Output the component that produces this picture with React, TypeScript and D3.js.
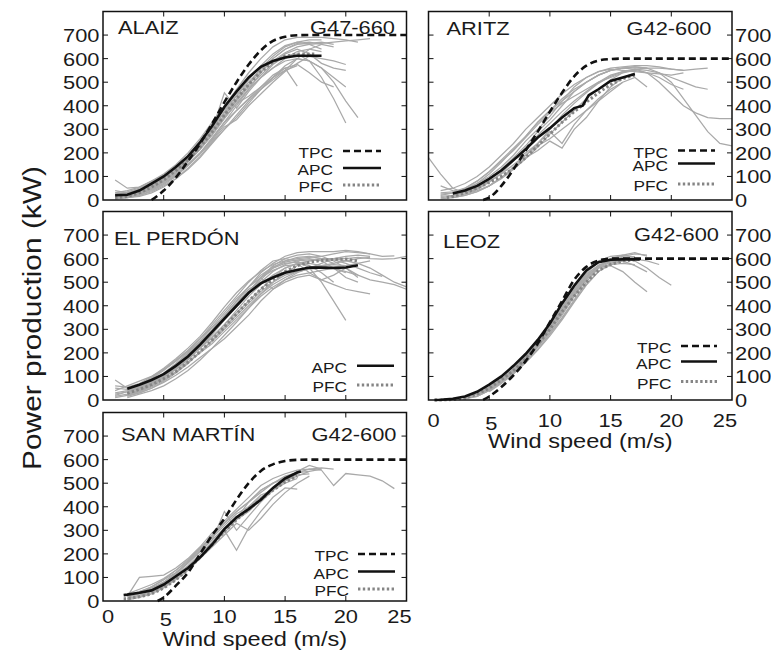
import React from "react";
import * as d3 from "d3";

type P = [number, number];

const windTicks = [0, 5, 10, 15, 20, 25];
const innerWindTicks = [5, 10, 15, 20];
const powerTicks = [0, 100, 200, 300, 400, 500, 600, 700];
const innerPowerTicks = [100, 200, 300, 400, 500, 600, 700];

// ---------- ALAIZ (G47-660) ----------
const alaizTPC: P[] = [[4, 0], [5, 40], [6, 95], [7, 165], [8, 240], [9, 325], [10, 415], [11, 500], [12, 575], [13, 635], [14, 675], [15, 693], [16, 699], [17, 700], [20, 700], [25, 700]];
const alaizAPC: P[] = [[1, 20], [2, 22], [3, 40], [4, 70], [5, 100], [6, 140], [7, 185], [8, 245], [9, 315], [10, 395], [11, 460], [12, 520], [13, 565], [14, 590], [15, 605], [16, 612], [17, 612], [18, 612]];
const alaizPFC: P[] = [[1, 10], [2, 15], [3, 30], [4, 55], [5, 85], [6, 125], [7, 170], [8, 225], [9, 290], [10, 360], [11, 430], [12, 490], [13, 545], [14, 585], [15, 610], [16, 620], [17, 620], [17.5, 620]];
const alaizGrayStart = [1, 1, 1, 1, 1, 2, 1, 1, 1, 1, 2, 1, 1, 2, 1, 2];
const alaizGray = [
  [30, 40, 55, 80, 110, 150, 200, 260, 330, 400, 470, 540, 600, 650, 680, 690, 690, 690, 685, 680, 670],
  [10, 15, 25, 45, 70, 105, 150, 200, 260, 330, 400, 470, 540, 600, 640, 665, 670, 660, 650],
  [20, 30, 45, 70, 95, 130, 175, 230, 300, 360, 420, 480, 530, 580, 620, 640, 620, 580, 560, 550],
  [5, 10, 20, 35, 60, 90, 135, 185, 245, 300, 360, 420, 470, 520, 570, 600, 590, 560, 500, 420, 350],
  [85, 50, 55, 80, 105, 140, 185, 235, 300, 455, 390, 460, 520, 575, 610, 620, 590, 520, 430, 327],
  [20, 35, 55, 85, 120, 165, 215, 275, 345, 410, 470, 520, 560, 600, 630, 640, 630],
  [15, 20, 35, 55, 80, 115, 160, 215, 280, 350, 410, 470, 520, 560, 590, 600, 590, 560, 520, 480],
  [25, 35, 50, 75, 100, 140, 190, 250, 320, 385, 440, 500, 555, 600, 640, 660, 665, 670, 660],
  [10, 20, 30, 50, 75, 110, 150, 200, 255, 320, 380, 430, 480, 530, 560, 575, 540, 500, 480],
  [40, 30, 45, 70, 100, 135, 185, 245, 310, 370, 430, 490, 560, 610, 650, 670, 680, 680],
  [15, 30, 50, 80, 120, 165, 220, 290, 350, 410, 440, 480, 520, 560, 483],
  [5, 10, 15, 30, 55, 90, 130, 180, 240, 300, 350, 410, 470, 520, 550, 570],
  [20, 25, 40, 60, 90, 125, 170, 225, 290, 360, 425, 490, 545, 590, 625, 650, 660, 665, 670, 675, 680, 685],
  [15, 25, 45, 70, 105, 150, 200, 265, 330, 380, 430, 470, 510, 550, 600, 640, 660],
  [30, 25, 40, 65, 95, 135, 180, 240, 305, 375, 445, 510, 570, 620, 655, 670, 660, 640],
  [10, 20, 40, 65, 100, 145, 195, 250, 310, 340, 400, 450, 500, 545, 580, 610, 600, 590, 575],
];

// ---------- ARITZ (G42-600) ----------
const aritzTPC: P[] = [[4.5, 0], [5, 10], [6, 60], [7, 130], [8, 210], [9, 290], [10, 375], [11, 455], [12, 525], [13, 570], [14, 592], [15, 598], [16, 600], [20, 600], [25, 600]];
const aritzAPC: P[] = [[2, 28], [3, 40], [4, 60], [5, 90], [6, 125], [7, 170], [8, 215], [9, 265], [10, 305], [11, 350], [12, 390], [12.7, 400], [13.2, 445], [14, 470], [15, 505], [16, 520], [17, 535]];
const aritzPFC: P[] = [[1.5, 10], [2, 15], [3, 30], [4, 50], [5, 75], [6, 100], [7, 135], [8, 180], [9, 230], [10, 280], [11, 330], [12, 375], [13, 415], [14, 455], [15, 490], [16, 515], [17, 530]];
const aritzGrayStart = [0, 1, 1, 1, 1, 2, 1, 2, 1, 1, 2, 1];
const aritzGray = [
  [180, 110, 50, 30, 45, 75, 115, 165, 220, 275, 325, 375, 420, 460, 500, 530, 545, 550, 540, 500, 450, 400, 370, 350, 345, 345],
  [20, 30, 45, 70, 110, 160, 215, 270, 330, 380, 430, 470, 500, 530, 550, 560, 565, 560, 540, 500, 430, 360, 290, 240, 230],
  [10, 15, 25, 40, 60, 90, 130, 175, 225, 280, 330, 380, 430, 470, 510, 540, 555, 560, 560, 555, 550],
  [40, 50, 70, 100, 140, 190, 240, 300, 350, 400, 450, 490, 520, 545, 560, 565, 570, 570, 565, 555, 550, 555, 560],
  [15, 20, 30, 50, 80, 110, 150, 190, 230, 260, 300, 340, 380, 420, 460, 500, 520, 480],
  [30, 50, 80, 120, 170, 220, 270, 330, 380, 420, 460, 500, 530, 550, 560, 555, 540, 520, 490, 470],
  [60, 40, 35, 55, 90, 130, 180, 230, 290, 340, 400, 460, 500, 530, 550, 560, 565, 560],
  [10, 20, 35, 60, 95, 135, 180, 210, 250, 220, 300, 350, 420, 480, 520, 540],
  [5, 10, 20, 35, 60, 95, 140, 190, 240, 300, 360, 410, 455, 495, 525, 545, 555, 550, 540, 520, 500, 480, 470],
  [30, 35, 50, 80, 120, 165, 210, 265, 320, 370, 410, 440, 470, 500, 520, 540, 550],
  [20, 35, 55, 90, 130, 170, 200, 240, 290, 240, 320, 380, 430, 470, 500],
  [25, 30, 45, 70, 100, 140, 190, 250, 300, 355, 420, 480, 520, 545, 555, 550, 545, 540, 535, 530, 540],
];

// ---------- EL PERDÓN ----------
const perdonAPC: P[] = [[2, 48], [3, 65], [4, 85], [5, 110], [6, 145], [7, 185], [8, 235], [9, 290], [10, 345], [11, 400], [12, 455], [13, 495], [14, 520], [15, 540], [16, 552], [17, 562], [18, 562], [19, 560], [20, 562], [21, 572]];
const perdonPFC: P[] = [[2, 28], [3, 45], [4, 65], [5, 90], [6, 120], [7, 160], [8, 205], [9, 255], [10, 310], [11, 365], [12, 420], [13, 470], [14, 510], [15, 545], [16, 570], [17, 585], [18, 592], [19, 597], [20, 598], [21, 590]];
const perdonGrayStart = [1, 2, 1, 1, 2, 1, 2, 1, 2, 1, 2, 1, 2, 2, 2, 1, 2, 1];
const perdonGray = [
  [20, 35, 55, 80, 110, 150, 195, 245, 300, 360, 420, 480, 540, 580, 610, 625, 630, 630, 630, 635, 630, 620, 610, 612],
  [10, 25, 40, 60, 90, 125, 170, 220, 275, 330, 390, 450, 500, 540, 570, 590, 600, 600, 590, 580, 560, 530, 500, 480],
  [40, 60, 80, 100, 130, 170, 210, 260, 320, 380, 440, 500, 550, 590, 600, 590, 560, 500, 420, 338],
  [85, 50, 65, 95, 130, 165, 205, 250, 290, 340, 395, 450, 500, 545, 575, 590, 595, 600, 595, 580, 560, 540, 525],
  [15, 30, 50, 75, 105, 140, 180, 220, 260, 310, 360, 420, 470, 510, 540, 560, 570, 575, 570],
  [30, 40, 55, 75, 100, 130, 170, 220, 280, 340, 400, 460, 520, 570, 600, 615, 620, 610, 590, 560, 530],
  [20, 40, 65, 100, 140, 185, 230, 280, 340, 400, 455, 520, 470, 500, 520, 530, 510, 490, 470, 460, 450],
  [10, 20, 35, 55, 85, 120, 160, 205, 250, 300, 350, 400, 450, 490, 520, 545, 560, 570, 580, 590, 600, 605],
  [30, 50, 70, 100, 135, 175, 220, 265, 320, 380, 440, 490, 530, 560, 580, 590, 595, 600, 600, 605, 600, 598, 600, 610],
  [50, 45, 60, 90, 125, 165, 210, 260, 310, 350, 400, 460, 520, 560, 580, 585, 570, 540, 500],
  [25, 45, 70, 110, 150, 195, 240, 290, 350, 410, 470, 500, 525, 545, 555, 560, 580, 600, 610, 615, 610],
  [15, 25, 40, 65, 95, 130, 175, 225, 270, 320, 370, 420, 470, 520, 560, 580, 540, 510, 530, 560, 520],
  [35, 55, 80, 115, 155, 200, 250, 310, 370, 430, 480, 520, 550, 570, 575, 580, 570, 560, 540],
  [20, 35, 60, 90, 120, 160, 200, 240, 290, 340, 390, 440, 480, 510, 530, 540, 550, 560, 545, 530, 510, 500, 490, 470],
  [40, 55, 75, 105, 145, 190, 235, 285, 345, 400, 455, 510, 560, 590, 605, 610, 600, 580],
  [25, 35, 50, 70, 100, 140, 185, 235, 290, 355, 420, 480, 530, 565, 585, 595, 600, 590, 560, 520, 500],
  [20, 30, 50, 80, 115, 155, 205, 255, 310, 360, 410, 460, 500, 530, 545, 555, 560, 565, 570, 580, 590],
  [60, 55, 70, 100, 135, 175, 220, 270, 330, 395, 455, 505, 545, 575, 590, 600, 605, 610, 620, 630, 625, 620],
];

// ---------- LEOZ (G42-600) ----------
const leozTPC: P[] = [[4.5, 0], [5, 15], [6, 55], [7, 105], [8, 165], [9, 240], [10, 330], [11, 420], [12, 510], [13, 565], [14, 592], [15, 600], [20, 600], [25, 600]];
const leozAPC: P[] = [[0.5, 0], [1, 1], [2, 5], [3, 15], [4, 35], [5, 65], [6, 100], [7, 145], [8, 195], [9, 255], [10, 325], [11, 410], [12, 485], [13, 550], [14, 585], [15, 595], [16, 597], [17, 597], [17.4, 597]];
const leozPFC: P[] = [[0.5, 0], [1, 0], [2, 2], [3, 8], [4, 25], [5, 50], [6, 85], [7, 125], [8, 175], [9, 235], [10, 300], [11, 375], [12, 440], [13, 500], [14, 550], [15, 575], [16, 590], [17, 595]];
const leozGrayStart = [3, 3, 4, 3, 4, 5, 4, 5, 4, 3, 5, 4];
const leozGray = [
  [10, 25, 50, 85, 130, 185, 245, 310, 390, 470, 540, 585, 600, 610, 620, 615],
  [5, 15, 40, 75, 120, 170, 230, 300, 370, 450, 520, 570, 590, 600, 590, 560, 520, 487],
  [20, 45, 80, 125, 180, 240, 305, 380, 460, 525, 565, 570, 545, 500, 459],
  [8, 15, 40, 75, 115, 165, 225, 290, 360, 440, 510, 560, 585, 590, 570, 544],
  [25, 55, 95, 140, 195, 255, 320, 400, 480, 545, 590, 610, 615, 605],
  [40, 75, 115, 160, 215, 280, 345, 420, 490, 545, 575, 580, 575],
  [20, 45, 80, 120, 170, 225, 285, 350, 425, 500, 560, 600, 615, 625, 610],
  [45, 80, 125, 175, 235, 300, 370, 445, 515, 560, 575, 590],
  [18, 42, 78, 122, 175, 235, 300, 375, 455, 520, 565, 590, 600, 605],
  [6, 18, 45, 82, 128, 182, 242, 310, 385, 462, 530, 572, 595, 605, 608],
  [35, 70, 110, 158, 212, 272, 340, 415, 488, 545, 580, 595, 598, 590, 575],
  [22, 50, 88, 132, 185, 248, 315, 392, 470, 535, 572, 588, 590],
];

// ---------- SAN MARTÍN (G42-600) ----------
const martinTPC: P[] = [[4.5, 0], [5, 15], [6, 65], [7, 120], [8, 200], [9, 280], [10, 350], [11, 430], [12, 500], [13, 552], [14, 580], [15, 594], [16, 599], [17, 600], [20, 600], [25, 600]];
const martinAPC: P[] = [[1.7, 25], [2, 27], [3, 35], [4, 45], [5, 70], [6, 105], [7, 140], [8, 185], [9, 240], [10, 305], [11, 355], [12, 390], [13, 430], [14, 480], [15, 520], [16, 545], [16.3, 550]];
const martinPFC: P[] = [[1.7, 10], [2, 10], [3, 18], [4, 30], [5, 55], [6, 90], [7, 135], [8, 185], [9, 240], [10, 295], [11, 345], [12, 390], [13, 430], [14, 470], [15, 505], [16, 530]];
const martinGrayStart = [2, 2, 2, 2, 2, 2, 2, 3, 2, 3];
const martinGray = [
  [20, 100, 105, 110, 140, 180, 230, 290, 330, 380, 420, 470, 500, 530, 545, 560, 555, 490, 541, 535, 530, 510, 477],
  [10, 20, 35, 60, 95, 140, 190, 250, 310, 350, 400, 440, 480, 510, 530, 550, 560],
  [25, 40, 55, 80, 115, 160, 210, 260, 380, 300, 360, 420, 470, 500, 520],
  [15, 30, 45, 70, 110, 150, 200, 250, 300, 215, 310, 380, 440, 480, 475],
  [30, 50, 70, 95, 130, 170, 220, 280, 340, 390, 440, 490, 520, 540, 555, 560, 565, 560],
  [5, 15, 30, 55, 90, 130, 180, 230, 280, 330, 300, 350, 410, 460, 500, 530],
  [20, 35, 60, 90, 120, 165, 215, 275, 330, 380, 420, 460, 500, 525, 545, 550],
  [40, 60, 90, 130, 175, 225, 270, 320, 370, 400, 450, 470, 510, 540],
  [10, 25, 40, 65, 100, 140, 185, 240, 290, 345, 380, 430, 470, 510, 550, 575, 560],
  [30, 50, 80, 120, 165, 210, 260, 310, 350, 420, 470, 500, 520, 535, 540],
];

// ---------- layout ----------
const ROW_TOP = [11.5, 211.5, 412.5];
const COL_LEFT = [103, 428.5];
const PW = 303.5;
const PH = 188.5;
const SX = 1.15;
const FONT = "'Liberation Sans', Arial, Helvetica, sans-serif";
const INK = "#1a1a1a";

type Panel = {
  name: string;
  model?: string;
  row: number;
  col: number;
  tpc?: P[];
  apc: P[];
  pfc: P[];
  grayStart: number[];
  gray: number[][];
  legend: string[];
  legendTextRight: number;
  legendLine: [number, number];
  legendRows: number[];
  nameDy: number;
  nameDx: number;
  modelDy: number;
  modelDx: number;
  xLabels: boolean;
  xTickDy: number;
  xTitleDy: number;
};

const panels: Panel[] = [
  { name: "ALAIZ", model: "G47-660", row: 0, col: 0, tpc: alaizTPC, apc: alaizAPC, pfc: alaizPFC, grayStart: alaizGrayStart, gray: alaizGray,
    legend: ["TPC", "APC", "PFC"], legendTextRight: 230, legendLine: [240, 278], legendRows: [-47.5, -30.5, -13.5],
    nameDx: 15, nameDy: 22, modelDx: -11.5, modelDy: 22, xLabels: false, xTickDy: 0, xTitleDy: 0 },
  { name: "ARITZ", model: "G42-600", row: 0, col: 1, tpc: aritzTPC, apc: aritzAPC, pfc: aritzPFC, grayStart: aritzGrayStart, gray: aritzGray,
    legend: ["TPC", "APC", "PFC"], legendTextRight: 239.5, legendLine: [249.5, 286.5], legendRows: [-48, -35, -14.5],
    nameDx: 18, nameDy: 23.5, modelDx: -20.5, modelDy: 23.5, xLabels: false, xTickDy: 0, xTitleDy: 0 },
  { name: "EL PERDÓN", row: 1, col: 0, apc: perdonAPC, pfc: perdonPFC, grayStart: perdonGrayStart, gray: perdonGray,
    legend: ["APC", "PFC"], legendTextRight: 244, legendLine: [254, 291], legendRows: [-32.8, -13.5],
    nameDx: 11, nameDy: 33, modelDx: 0, modelDy: 0, xLabels: false, xTickDy: 0, xTitleDy: 0 },
  { name: "LEOZ", model: "G42-600", row: 1, col: 1, tpc: leozTPC, apc: leozAPC, pfc: leozPFC, grayStart: leozGrayStart, gray: leozGray,
    legend: ["TPC", "APC", "PFC"], legendTextRight: 243, legendLine: [252.5, 288.5], legendRows: [-52.5, -37, -17],
    nameDx: 14.5, nameDy: 36.5, modelDx: -13, modelDy: 29, xLabels: true, xTickDy: 20, xTitleDy: 48 },
  { name: "SAN MARTÍN", model: "G42-600", row: 2, col: 0, tpc: martinTPC, apc: martinAPC, pfc: martinPFC, grayStart: martinGrayStart, gray: martinGray,
    legend: ["TPC", "APC", "PFC"], legendTextRight: 246, legendLine: [255, 292], legendRows: [-45.5, -28, -10.5],
    nameDx: 18, nameDy: 28, modelDx: -10, modelDy: 28, xLabels: true, xTickDy: 14.5, xTitleDy: 44.5 },
];

function T(props: { x: number; y: number; size: number; anchor?: string; rotate?: number; children: React.ReactNode }) {
  const { x, y, size, anchor = "start", rotate = 0, children } = props;
  return (
    <text
      transform={`translate(${x},${y}) rotate(${rotate}) scale(${SX},1)`}
      fontSize={size}
      fontFamily={FONT}
      textAnchor={anchor}
      fill={INK}
    >
      {children}
    </text>
  );
}

function PanelView({ p }: { p: Panel }) {
  const left = COL_LEFT[p.col];
  const top = ROW_TOP[p.row];
  const right = left + PW;
  const bottom = top + PH;
  const x = d3.scaleLinear().domain([0, 25]).range([left, right]);
  const y = d3.scaleLinear().domain([0, 800]).range([bottom, top]);
  const lin = d3.line<P>().x((d) => x(d[0])).y((d) => y(d[1]));
  const smooth = d3.line<P>().x((d) => x(d[0])).y((d) => y(d[1])).curve(d3.curveMonotoneX);
  const grayPts: P[][] = p.gray.map((vals, i) => vals.map((v, j) => [p.grayStart[i] + j, v] as P));
  const tk = 5;
  const styles: Record<string, { stroke: string; width: number; dash?: string }> = {
    TPC: { stroke: "#111", width: 2.6, dash: "7,4" },
    APC: { stroke: "#111", width: 2.6 },
    PFC: { stroke: "#858585", width: 3, dash: "2.4,2.4" },
  };
  return (
    <g>
      {grayPts.map((pts, i) => (
        <path key={"g" + i} d={lin(pts) || ""} fill="none" stroke="#a9a9a9" strokeWidth={1.25} />
      ))}
      <path d={lin(p.pfc) || ""} fill="none" stroke={styles.PFC.stroke} strokeWidth={styles.PFC.width} strokeDasharray={styles.PFC.dash} />
      <path d={lin(p.apc) || ""} fill="none" stroke={styles.APC.stroke} strokeWidth={styles.APC.width} />
      {p.tpc && (
        <path d={smooth(p.tpc) || ""} fill="none" stroke={styles.TPC.stroke} strokeWidth={styles.TPC.width} strokeDasharray={styles.TPC.dash} />
      )}
      <rect x={left} y={top} width={PW} height={PH} fill="none" stroke="#111" strokeWidth={1.5} />
      {innerWindTicks.map((v) => (
        <g key={"xt" + v}>
          <line x1={x(v)} x2={x(v)} y1={bottom} y2={bottom - tk} stroke="#111" strokeWidth={1} />
          <line x1={x(v)} x2={x(v)} y1={top} y2={top + tk} stroke="#111" strokeWidth={1} />
        </g>
      ))}
      {innerPowerTicks.map((v) => (
        <g key={"yt" + v}>
          <line x1={left} x2={left + tk} y1={y(v)} y2={y(v)} stroke="#111" strokeWidth={1} />
          <line x1={right} x2={right - tk} y1={y(v)} y2={y(v)} stroke="#111" strokeWidth={1} />
        </g>
      ))}
      {powerTicks.map((v) =>
        p.col === 0 ? (
          <T key={"yl" + v} x={left - 3.5} y={y(v) + 7} size={19} anchor="end">{v}</T>
        ) : (
          <T key={"yl" + v} x={right + 3} y={y(v) + 7} size={19} anchor="start">{v}</T>
        )
      )}
      {p.xLabels &&
        windTicks.map((v) => {
          const shift = v === 0 ? 5 : v === 25 ? -7 : v === 5 ? 2 : 0;
          const dy = v === 5 ? 3 : 0;
          return (
            <T key={"xl" + v} x={x(v) + shift} y={bottom + p.xTickDy + 7 + dy} size={19} anchor="middle">{v}</T>
          );
        })}
      {p.xLabels && (
        <T x={(left + right) / 2} y={bottom + p.xTitleDy} size={20.5} anchor="middle">Wind speed (m/s)</T>
      )}
      <T x={left + p.nameDx} y={top + p.nameDy} size={19}>{p.name}</T>
      {p.model && (
        <T x={right + p.modelDx} y={top + p.modelDy} size={19} anchor="end">{p.model}</T>
      )}
      {p.legend.map((lab, i) => {
        const st = styles[lab];
        const ly = bottom + p.legendRows[i];
        return (
          <g key={"lg" + lab}>
            <T x={left + p.legendTextRight} y={ly + 5.5} size={15} anchor="end">{lab}</T>
            <line x1={left + p.legendLine[0]} x2={left + p.legendLine[1]} y1={ly - 1.5} y2={ly - 1.5}
              stroke={st.stroke} strokeWidth={st.width} strokeDasharray={st.dash} />
          </g>
        );
      })}
    </g>
  );
}

export default function App() {
  return (
    <svg width={771} height={651} style={{ position: "absolute", left: 0, top: 0, background: "#fff" }}>
      <rect x={0} y={0} width={771} height={651} fill="#fff" />
      {panels.map((p) => (
        <PanelView key={p.name} p={p} />
      ))}
      <T x={41} y={318} size={26} anchor="middle" rotate={-90}>Power production (kW)</T>
    </svg>
  );
}
